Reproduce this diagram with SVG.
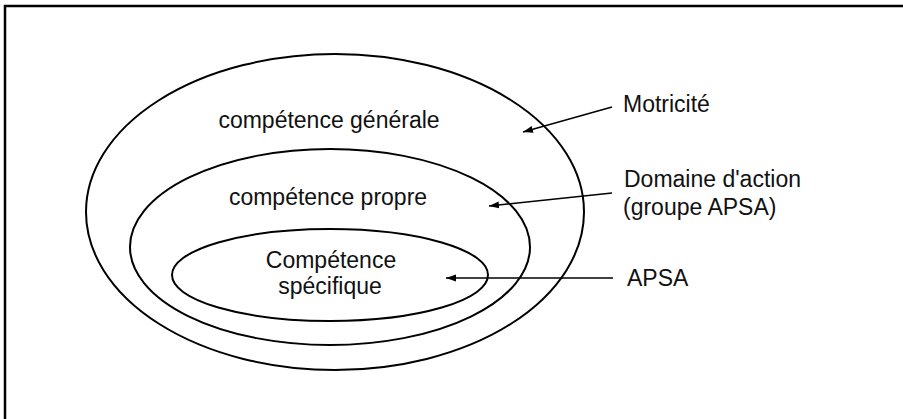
<svg xmlns="http://www.w3.org/2000/svg" width="903" height="419" viewBox="0 0 903 419">
<style>
.ell{fill:none;stroke:#000;stroke-width:2}
.t{font-family:"Liberation Sans",Arial,sans-serif;font-size:23px;fill:#111}
.c{text-anchor:middle}
.arr{stroke:#000;stroke-width:1.4;fill:none;marker-end:url(#ah)}
</style>
<defs>
<marker id="ah" markerUnits="userSpaceOnUse" markerWidth="12" markerHeight="8" refX="10" refY="3.5" orient="auto">
<path d="M0,0 L10,3.5 L0,7 Z" fill="#000"/>
</marker>
</defs>
<rect width="903" height="419" fill="#fff"/>
<path d="M5,419 V6 H903" fill="none" stroke="#000" stroke-width="2.5"/>
<g id="motricite">
<ellipse class="ell" cx="335" cy="212" rx="249" ry="158"/>
<text class="t c" x="329" y="128">compétence générale</text>
</g>
<g id="domaine">
<ellipse class="ell" cx="330" cy="247" rx="200" ry="98"/>
<text class="t c" x="328" y="205">compétence propre</text>
</g>
<g id="apsa">
<ellipse class="ell" cx="330" cy="275" rx="158" ry="46"/>
<text class="t c" x="331" y="268">Compétence</text>
<text class="t c" x="330" y="294">spécifique</text>
</g>
<g id="label-motricite"><text class="t" x="623" y="112">Motricité</text></g>
<g id="label-domaine"><text class="t" x="624" y="187">Domaine d'action</text><text class="t" x="623" y="215">(groupe APSA)</text></g>
<g id="label-apsa"><text class="t" x="627" y="286">APSA</text></g>
<g id="connectors">
<line class="arr" x1="612" y1="107" x2="523" y2="132"/>
<line class="arr" x1="612" y1="193" x2="489" y2="206"/>
<line class="arr" x1="613" y1="278" x2="446" y2="278"/>
</g>
</svg>
